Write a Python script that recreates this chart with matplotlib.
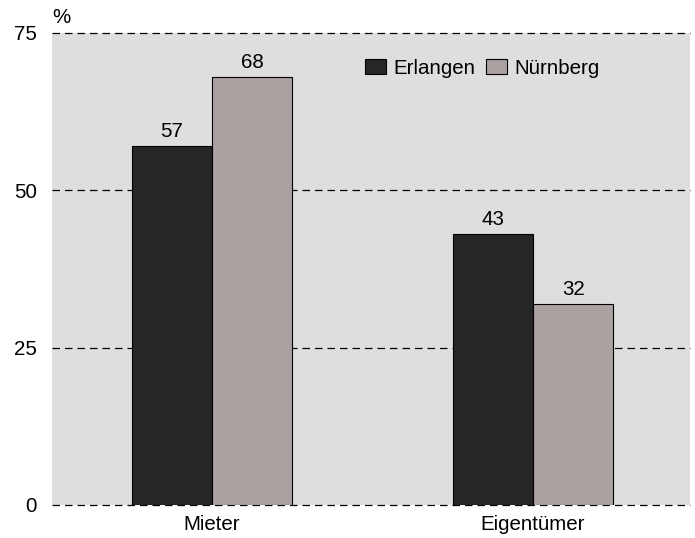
import matplotlib.pyplot as plt
import numpy as np

plt.rcParams['font.family'] = ['Liberation Sans', 'DejaVu Sans']

categories = ["Mieter", "Eigentümer"]
erlangen = [57, 43]
nuernberg = [68, 32]
series_names = ["Erlangen", "Nürnberg"]
yticks = [0, 25, 50, 75]

fs = 14.8

fig = plt.figure(figsize=(6.95, 5.38), dpi=100)
ax = fig.add_axes([52 / 695, 33 / 538, 638 / 695, 472 / 538])
ax.set_facecolor("#dedede")

x = np.arange(len(categories))
w = 0.25
b1 = ax.bar(x - w / 2, erlangen, w, color="#262626", edgecolor="black", linewidth=0.8, label=series_names[0], zorder=3)
b2 = ax.bar(x + w / 2, nuernberg, w, color="#aba1a1", edgecolor="black", linewidth=0.8, label=series_names[1], zorder=3)

for bars, vals in [(b1, erlangen), (b2, nuernberg)]:
    for rect, v in zip(bars, vals):
        ax.text(rect.get_x() + rect.get_width() / 2, v + 0.8, str(v),
                ha="center", va="bottom", fontsize=fs)

ax.set_xlim(-0.498, 1.489)
ax.set_ylim(0, 75)
ax.set_yticks(yticks)
ax.set_xticks(x)
ax.set_xticklabels(categories)
ax.tick_params(axis="both", length=0, labelsize=fs)
ax.tick_params(axis="y", pad=11)
ax.tick_params(axis="x", pad=7)
for s in ax.spines.values():
    s.set_visible(False)

for y in yticks:
    ax.axhline(y, color="black", linestyle=(0, (6, 4)), linewidth=0.9, zorder=2, clip_on=False)

ax.text(0.0, 1.012, "%", transform=ax.transAxes, ha="left", va="bottom", fontsize=fs)

ax.legend(loc="upper right", bbox_to_anchor=(0.888, 0.985), frameon=False, ncol=2,
          fontsize=fs, handlelength=1.0, handleheight=0.75, handletextpad=0.4,
          columnspacing=0.5)

fig.savefig("out.png", dpi=100)
